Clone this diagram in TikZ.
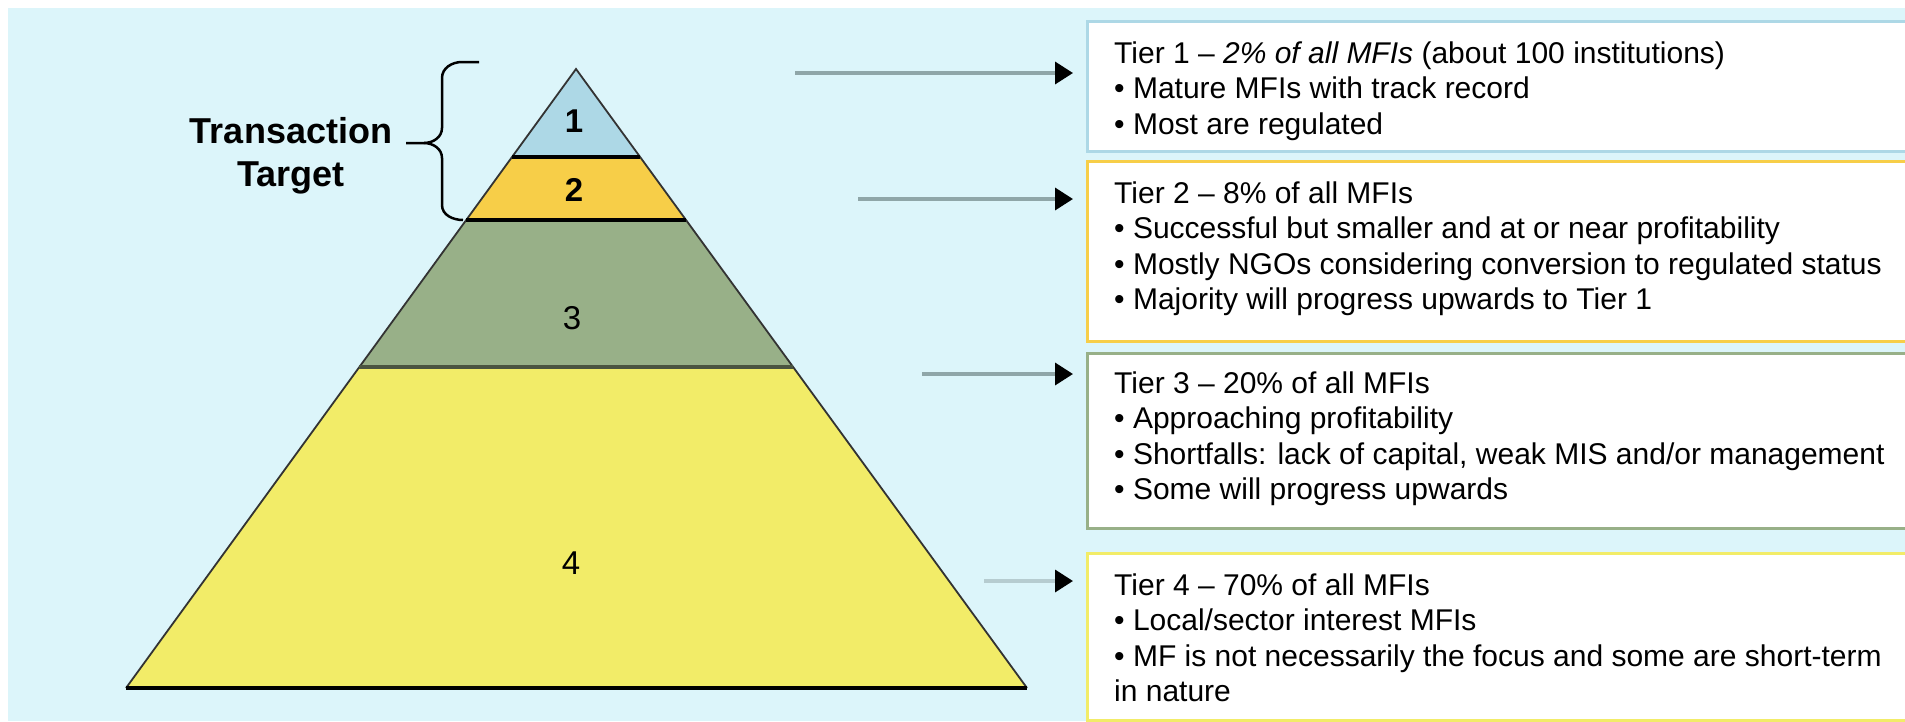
\documentclass[tikz,border=0pt]{standalone}
\usepackage{fontspec}
\setmainfont{Liberation Sans}
\usetikzlibrary{arrows.meta,positioning}
\definecolor{bgcyan}{RGB}{220,245,250}
\definecolor{tierA}{RGB}{173,216,230}
\definecolor{tierB}{RGB}{247,206,72}
\definecolor{tierC}{RGB}{152,176,136}
\definecolor{tierD}{RGB}{242,236,104}
\definecolor{arrowgray}{RGB}{143,166,168}
\definecolor{arrowpale}{RGB}{182,204,208}
\definecolor{divgreen}{RGB}{74,84,64}

\begin{document}
\begin{tikzpicture}
	[x=1pt,y=-1pt,
	side/.style={draw=black!80,line width=1.8pt},
	divider/.style={line width=3.5pt},
	num/.style={font=\fontsize{33}{36}\selectfont},
	tierbox/.style={draw=#1,line width=3pt,fill=white,minimum width=860pt,anchor=north west,inner sep=0pt},
	tiertext/.style={anchor=north west,align=left,inner sep=0pt,font=\fontsize{30}{35.5}\selectfont},
	pointer/.style={draw=arrowgray,line width=3.5pt,shorten >=13pt,-{Triangle[length=18pt,width=22pt,color=black]}}]
		\useasboundingbox (0,0) rectangle (1905,721);
		\fill[bgcyan] (8,8) rectangle (1905,721);
		\coordinate (apex) at (576,69);
		\coordinate (l1) at (512,157);
		\coordinate (r1) at (640,157);
		\coordinate (l2) at (466,220);
		\coordinate (r2) at (686,220);
		\coordinate (l3) at (359,367);
		\coordinate (r3) at (793,367);
		\coordinate (bl) at (126,688);
		\coordinate (br) at (1027,688);
		\fill[tierA] (apex) -- (r1) -- (l1) -- cycle;
		\fill[tierB] (l1) -- (r1) -- (r2) -- (l2) -- cycle;
		\fill[tierC] (l2) -- (r2) -- (r3) -- (l3) -- cycle;
		\fill[tierD] (l3) -- (r3) -- (br) -- (bl) -- cycle;
		\draw[side] (bl) -- (apex) -- (br);
		\draw[divider] (l1) -- (r1) (l2) -- (r2);
		\draw[divider,divgreen,line width=4pt] (l3) -- (r3);
		\draw[divider,line width=4pt] (bl) -- (br);
		\node[num,font=\bfseries\fontsize{33}{36}\selectfont] (n1) at (574,121) {1};
		\node[num,font=\bfseries\fontsize{33}{36}\selectfont] (n2) at (574,190) {2};
		\node[num] (n3) at (572,318) {3};
		\node[num] (n4) at (571,563) {4};
		\node[align=center,font=\bfseries\fontsize{36}{43}\selectfont] (target) at (291,156) {Transaction\\Target};
		\draw[line width=2.5pt] (479,62) -- (462,62) to[out=180,in=90] (442,78) -- (442,128)
			to[out=-90,in=0] (424,143) -- (406,143);
		\draw[line width=2.5pt] (424,143) to[out=0,in=90] (442,158) -- (442,205) to[out=-90,in=180] (463,220);
		\node[tierbox=tierA,minimum height=130pt] (box1) at (1086,20) {};
		\node[tierbox=tierB,minimum height=180pt] (box2) at (1086,160) {};
		\node[tierbox=tierC,minimum height=175pt] (box3) at (1086,352) {};
		\node[tierbox=tierD,minimum height=167pt] (box4) at (1086,552) {};
		\node[tiertext] (txt1) at ([xshift=28pt,yshift=-18pt]box1.north west)
			{\strut Tier 1 – \textit{2\% of all MFIs} (about 100 institutions)\\
			\textbullet{} Mature MFIs with track record\\
			\textbullet{} Most are regulated};
		\node[tiertext] (txt2) at ([xshift=28pt,yshift=-18pt]box2.north west)
			{\strut Tier 2 – 8\% of all MFIs\\
			\textbullet{} Successful but smaller and at or near profitability\\
			\textbullet{} Mostly NGOs considering conversion to regulated status\\
			\textbullet{} Majority will progress upwards to Tier 1};
		\node[tiertext] (txt3) at ([xshift=28pt,yshift=-16pt]box3.north west)
			{\strut Tier 3 – 20\% of all MFIs\\
			\textbullet{} Approaching profitability\\
			\textbullet{} Shortfalls: lack of capital, weak MIS and/or management\\
			\textbullet{} Some will progress upwards};
		\node[tiertext] (txt4) at ([xshift=28pt,yshift=-18pt]box4.north west)
			{\strut Tier 4 – 70\% of all MFIs\\
			\textbullet{} Local/sector interest MFIs\\
			\textbullet{} MF is not necessarily the focus and some are short-term\\
			in nature};
		\coordinate (p1) at (795,73);
		\coordinate (p2) at (858,199);
		\coordinate (p3) at (922,374);
		\coordinate (p4) at (984,581);
		\draw[pointer] (p1) -- (p1 -| box1.west);
		\draw[pointer] (p2) -- (p2 -| box2.west);
		\draw[pointer] (p3) -- (p3 -| box3.west);
		\draw[pointer,draw=arrowpale] (p4) -- (p4 -| box4.west);
	\end{tikzpicture}
\end{document}
